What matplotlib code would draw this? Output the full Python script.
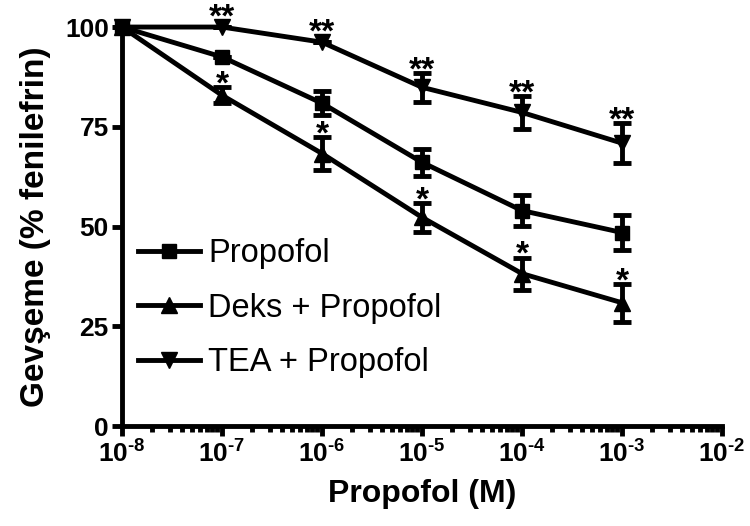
import numpy as np
import matplotlib
matplotlib.use("Agg")
import matplotlib.pyplot as plt
from matplotlib.lines import Line2D
from matplotlib.ticker import FixedLocator, LogLocator, FuncFormatter

plt.rcParams['font.family'] = ['Liberation Sans', 'DejaVu Sans']
plt.rcParams['mathtext.fontset'] = 'custom'
plt.rcParams['mathtext.rm'] = 'Liberation Sans:bold'
plt.rcParams['mathtext.it'] = 'Liberation Sans:bold'
plt.rcParams['mathtext.bf'] = 'Liberation Sans:bold'

conc = [1e-8, 1e-7, 1e-6, 1e-5, 1e-4, 1e-3]

propofol = [100, 92.5, 80.9, 66.1, 54, 48.5]
propofol_err = [0, 0, 3.0, 3.4, 3.8, 4.4]

deks = [100, 82.9, 68.3, 52.3, 38.2, 30.9]
deks_err = [0, 2.0, 4.1, 3.6, 4.0, 4.7]

tea = [100, 100, 96.2, 84.9, 78.6, 70.9]
tea_err = [0, 0, 0, 3.6, 4.1, 5.0]

deks_stars = ['', '*', '*', '*', '*', '*']
tea_stars = ['', '**', '**', '**', '**', '**']

fig = plt.figure(figsize=(7.5, 5.26), dpi=100)
ax = fig.add_axes([0.1627, 0.19, 0.8, 0.7586])

style = dict(color='black', lw=3.5, capsize=6.5, capthick=3.5, elinewidth=3.5, clip_on=False)
ax.errorbar(conc, propofol, yerr=propofol_err, marker='s', markersize=10, **style)
ax.errorbar(conc, deks, yerr=deks_err, marker='^', markersize=11, **style)
ax.errorbar(conc, tea, yerr=tea_err, marker='v', markersize=11, **style)

# significance marks sit just above the upper error cap
for vals, errs, stars in [(deks, deks_err, deks_stars), (tea, tea_err, tea_stars)]:
    for x, y, e, s in zip(conc, vals, errs, stars):
        if s:
            ax.annotate(s, (x, y + max(e, 1.8)), xytext=(0, -4.5), textcoords='offset points',
                        ha='center', va='baseline', fontsize=24, fontweight='bold',
                        annotation_clip=False)

ax.set_xscale('log')
ax.set_xlim(1e-8, 1e-2)
ax.set_ylim(0, 100)
ax.xaxis.set_major_locator(FixedLocator([10.0 ** k for k in range(-8, -1)]))
ax.xaxis.set_minor_locator(LogLocator(base=10, subs=np.arange(2, 10), numticks=20))
ax.xaxis.set_major_formatter(FuncFormatter(lambda v, p: r'$10^{\text{-%d}}$' % -round(np.log10(v))))
ax.set_yticks([0, 25, 50, 75, 100])

for side in ['top', 'right']:
    ax.spines[side].set_visible(False)
for side in ['left', 'bottom']:
    ax.spines[side].set_linewidth(3.5)

ax.tick_params(axis='both', which='major', width=3.5, length=7.5, labelsize=19)
ax.tick_params(axis='y', which='major', pad=2)
ax.tick_params(axis='x', which='major', pad=3)
ax.tick_params(axis='x', which='minor', width=3.5, length=4)
for lab in ax.get_yticklabels():
    lab.set_fontweight('bold')

ax.set_xlabel('Propofol (M)', fontsize=23, fontweight='bold', labelpad=8)
ax.set_ylabel('Gevşeme (% fenilefrin)', fontsize=24, fontweight='bold', labelpad=10)

handles = [Line2D([], [], color='black', lw=3.5, marker=m, markersize=ms)
           for m, ms in [('s', 10), ('^', 11), ('v', 11)]]
ax.legend(handles, ['Propofol', 'Deks + Propofol', 'TEA + Propofol'],
          loc='center left', bbox_to_anchor=(0.184, 0.414), bbox_transform=fig.transFigure,
          frameon=False, fontsize=23.5, handlelength=1.9, handletextpad=0.25,
          labelspacing=0.72, borderpad=0, borderaxespad=0)

fig.savefig('out.png', dpi=100)
